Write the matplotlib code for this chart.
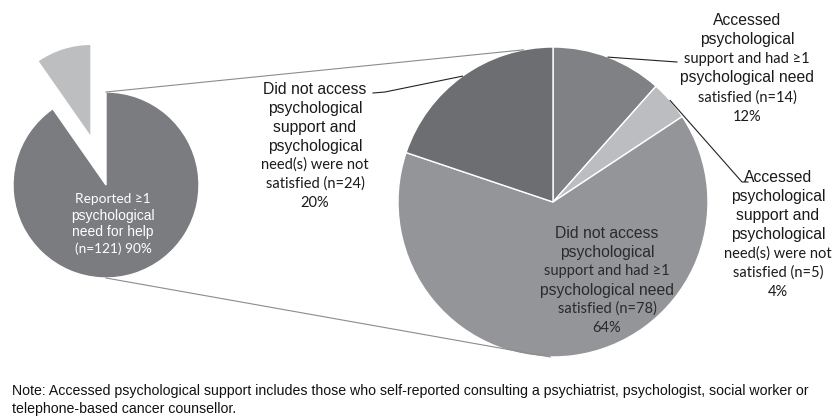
import numpy as np
import matplotlib
matplotlib.use("Agg")
import matplotlib.pyplot as plt

# left pie: share reporting a psychological need
left_values = [121, 13]
left_colors = ['#7b7c7f', '#bdbec0']
left_label = ['Reported \u22651', 'psychological', 'need for help', '(n=121) 90%']
left_fonts = ['c', 'a', 'a', 'c']

# right pie: breakdown of the 121
right_values = [14, 5, 78, 24]
right_colors = ['#808184', '#bcbdc0', '#939598', '#6d6e71']
labels_12 = ['Accessed', 'psychological', 'support and had \u22651', 'psychological need',
             'satisfied (n=14)', '12%']
fonts_12 = ['a', 'a', 'c', 'a', 'c', 'c']
labels_4 = ['Accessed', 'psychological', 'support and', 'psychological',
            'need(s) were not', 'satisfied (n=5)', '4%']
fonts_4 = ['a', 'a', 'a', 'a', 'c', 'c', 'c']
labels_64 = ['Did not access', 'psychological', 'support and had \u22651', 'psychological need',
             'satisfied (n=78)', '64%']
fonts_64 = ['a', 'a', 'c', 'a', 'c', 'c']
labels_20 = ['Did not access', 'psychological', 'support and', 'psychological',
             'need(s) were not', 'satisfied (n=24)', '20%']
fonts_20 = ['a', 'a', 'a', 'a', 'c', 'c', 'c']

note = ("Note: Accessed psychological support includes those who self-reported consulting a "
        "psychiatrist, psychologist, social worker or\ntelephone-based cancer counsellor.")

W, H = 834, 419
fig = plt.figure(figsize=(W / 100, H / 100), dpi=100)
ax = fig.add_axes([0, 0, 1, 1])

def fy(y):
    # pixel row -> data y
    return H - y

lc, lr = (106, fy(185)), 93
rc, rr = (553, fy(202)), 155

lw, _ = ax.pie(left_values, center=lc, radius=lr, startangle=90, counterclock=False,
               colors=left_colors, explode=[0, 50],
               wedgeprops=dict(edgecolor='white', linewidth=1))
rw, _ = ax.pie(right_values, center=rc, radius=rr, startangle=90, counterclock=False,
               colors=right_colors, wedgeprops=dict(edgecolor='white', linewidth=1))

ax.set_xlim(0, W)
ax.set_ylim(0, H)
ax.set_aspect('equal')
ax.axis('off')

def on_circle(c, r, ang):
    a = np.deg2rad(ang)
    return c[0] + r * np.cos(a), c[1] + r * np.sin(a)

# connector lines between the pies
for a_left, a_right in [(90, 101), (270, 269)]:
    p1 = on_circle(lc, lr, a_left)
    p2 = on_circle(rc, rr, a_right)
    ax.plot([p1[0], p2[0]], [p1[1], p2[1]], color='#8c8c8c', lw=0.8)

def mid(w):
    return (w.theta1 + w.theta2) / 2

# leader lines
leaders = [
    (rw[0], [(677, 62)]),
    (rw[1], [(742, 182), (748, 182)]),
    (rw[3], [(385, 92), (373, 93)]),
]
for w, pts in leaders:
    x0, y0 = on_circle(rc, rr, mid(w))
    xs = [x0] + [p[0] for p in pts]
    ys = [y0] + [fy(p[1]) for p in pts]
    ax.plot(xs, ys, color='#222222', lw=0.8)

def draw_label(x, y0, lines, fonts, dy, color, sa, sc):
    for i, (t, f) in enumerate(zip(lines, fonts)):
        if f == 'a':
            fam, s = ['Liberation Sans', 'DejaVu Sans'], sa
        else:
            fam, s = ['Lato', 'DejaVu Sans'], sc
        ax.text(x, fy(y0 + i * dy), t, ha='center', va='center',
                family=fam, fontsize=s, color=color)

draw_label(113, 199, left_label, left_fonts, 16.7, 'white', 10, 9.8)
draw_label(747, 20, labels_12, fonts_12, 19.3, '#1a1a1a', 11.3, 10.5)
draw_label(778, 177, labels_4, fonts_4, 19.2, '#1a1a1a', 11.3, 10.5)
draw_label(607, 233, labels_64, fonts_64, 19.0, '#2a2a2a', 11.3, 10.5)
draw_label(315, 89, labels_20, fonts_20, 19.0, '#1a1a1a', 11.3, 10.5)

ax.text(12, fy(400), note, ha='left', va='center', family='Liberation Sans',
        fontsize=10.2, color='#111111', linespacing=1.4)

fig.savefig('out.png', dpi=100)
